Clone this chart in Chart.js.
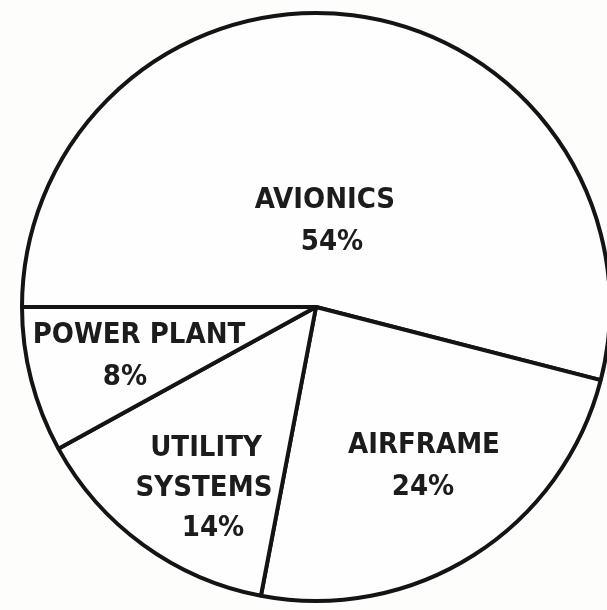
<!DOCTYPE html>
<html>
<head>
<meta charset="utf-8">
<script src="https://cdn.jsdelivr.net/npm/chart.js@4"></script>
<style>
  html, body { margin: 0; padding: 0; background: #fdfdfc; }
  #wrap { width: 607px; height: 610px; position: relative; }
</style>
</head>
<body>
<div id="wrap"><canvas id="pie"></canvas></div>
<script>
const categories = ["AVIONICS", "AIRFRAME", "UTILITY SYSTEMS", "POWER PLANT"];
const shares = [54, 24, 14, 8];

// label lines per slice (the percent line is added at draw time)
const labelLines = [["AVIONICS"], ["AIRFRAME"], ["UTILITY", "SYSTEMS"], ["POWER PLANT"]];
// offsets of each line from the pie centre, same order as the lines + percent
const labelOffsets = [
  [[9, -107], [16, -65]],
  [[108, 138], [107, 180]],
  [[-110, 141], [-112, 181], [-103, 221]],
  [[-177, 28], [-191, 70]]
];

const FONT = '"Liberation Sans Narrow", "DejaVu Sans Condensed", "Arial Narrow", sans-serif';

const sliceLabels = {
  id: "sliceLabels",
  afterDatasetsDraw(chart) {
    const ctx = chart.ctx;
    const arc = chart.getDatasetMeta(0).data[0];
    const cx = arc.x;
    const cy = arc.y;
    ctx.save();
    ctx.fillStyle = "#1c1c1c";
    ctx.textAlign = "center";
    ctx.textBaseline = "middle";
    ctx.font = "bold 29px " + FONT;
    categories.forEach((name, i) => {
      const lines = labelLines[i].concat([shares[i] + "%"]);
      lines.forEach((txt, j) => {
        const [dx, dy] = labelOffsets[i][j];
        ctx.fillText(txt, cx + dx, cy + dy);
      });
    });
    ctx.restore();
  }
};

new Chart(document.getElementById("pie"), {
  type: "pie",
  data: {
    labels: categories,
    datasets: [{
      data: shares,
      backgroundColor: "#fefefe",
      borderColor: "#141414",
      borderWidth: 4,
      clip: false
    }]
  },
  options: {
    responsive: true,
    maintainAspectRatio: false,
    animation: false,
    rotation: -90,
    radius: 294,
    layout: { padding: { left: 25, right: 0, top: 4, bottom: 0 } },
    plugins: {
      legend: { display: false },
      tooltip: { enabled: false }
    }
  },
  plugins: [sliceLabels]
});
</script>
</body>
</html>
